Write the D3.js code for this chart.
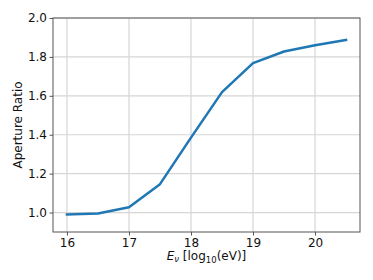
<!DOCTYPE html>
<html>
<head>
<meta charset="utf-8">
<script src="https://cdn.jsdelivr.net/npm/d3@7"></script>
<style>
  body { margin: 0; background: #fff; }
  svg { display: block; font-family: "DejaVu Sans", sans-serif; }
</style>
</head>
<body>
<svg id="chart" width="373" height="280"></svg>
<script>
// energy in log10(eV) and the aperture ratio
const energies = [16, 16.5, 17, 17.5, 18, 18.5, 19, 19.5, 20, 20.5];
const ratios = [0.99, 0.995, 1.027, 1.146, 1.385, 1.619, 1.768, 1.828, 1.86, 1.887];
const xTicks = [16, 17, 18, 19, 20];
const yTicks = [1.0, 1.2, 1.4, 1.6, 1.8, 2.0];

const margin = { left: 53, right: 13, top: 18, bottom: 48 };
const width = 373, height = 280;
const svg = d3.select('#chart');

const x = d3.scaleLinear().domain([15.775, 20.725]).range([margin.left, width - margin.right]);
const y = d3.scaleLinear().domain([0.9, 2.0]).range([height - margin.bottom, margin.top]);

// grid
svg.append('g')
  .selectAll('line')
  .data(xTicks)
  .enter().append('line')
  .attr('x1', d => x(d)).attr('x2', d => x(d))
  .attr('y1', y.range()[0]).attr('y2', y.range()[1])
  .attr('stroke', '#d6d6d6').attr('stroke-width', 1.2);
svg.append('g')
  .selectAll('line')
  .data(yTicks)
  .enter().append('line')
  .attr('y1', d => y(d)).attr('y2', d => y(d))
  .attr('x1', x.range()[0]).attr('x2', x.range()[1])
  .attr('stroke', '#d6d6d6').attr('stroke-width', 1.2);

// data line
const line = d3.line().x((d, i) => x(energies[i])).y(d => y(d));
svg.append('path')
  .datum(ratios)
  .attr('d', line)
  .attr('fill', 'none')
  .attr('stroke', '#1f77b4')
  .attr('stroke-width', 2.5)
  .attr('stroke-linejoin', 'round')
  .attr('stroke-linecap', 'square');

// frame
svg.append('rect')
  .attr('x', margin.left).attr('y', margin.top)
  .attr('width', width - margin.left - margin.right)
  .attr('height', height - margin.top - margin.bottom)
  .attr('fill', 'none').attr('stroke', '#555').attr('stroke-width', 1);

// axes
const xAxis = svg.append('g')
  .attr('transform', `translate(0,${height - margin.bottom})`)
  .call(d3.axisBottom(x).tickValues(xTicks).tickFormat(d3.format('d')).tickSize(3.5).tickPadding(2.5));
const yAxis = svg.append('g')
  .attr('transform', `translate(${margin.left},0)`)
  .call(d3.axisLeft(y).tickValues(yTicks).tickFormat(d3.format('.1f')).tickSize(3.5).tickPadding(2.5));

[xAxis, yAxis].forEach(g => {
  g.attr('font-size', 12).attr('font-family', 'DejaVu Sans');
  g.select('.domain').remove();
  g.selectAll('.tick line').attr('stroke', '#555');
  g.selectAll('.tick text').attr('fill', '#111');
});

// axis labels
const xl = svg.append('text')
  .attr('x', (x.range()[0] + x.range()[1]) / 2)
  .attr('y', 260)
  .attr('text-anchor', 'middle')
  .attr('font-size', 12)
  .attr('fill', '#111');
xl.append('tspan').attr('font-style', 'italic').text('E');
xl.append('tspan').attr('font-style', 'italic').attr('font-size', 8.5).attr('dy', 2).text('ν');
xl.append('tspan').attr('dy', -2).text(' [log');
xl.append('tspan').attr('font-size', 8.5).attr('dy', 2.5).text('10');
xl.append('tspan').attr('dy', -2.5).text('(eV)]');

svg.append('text')
  .attr('transform', `translate(22,${(y.range()[0] + y.range()[1]) / 2}) rotate(-90)`)
  .attr('text-anchor', 'middle')
  .attr('font-size', 12)
  .attr('fill', '#111')
  .text('Aperture Ratio');
</script>
</body>
</html>
